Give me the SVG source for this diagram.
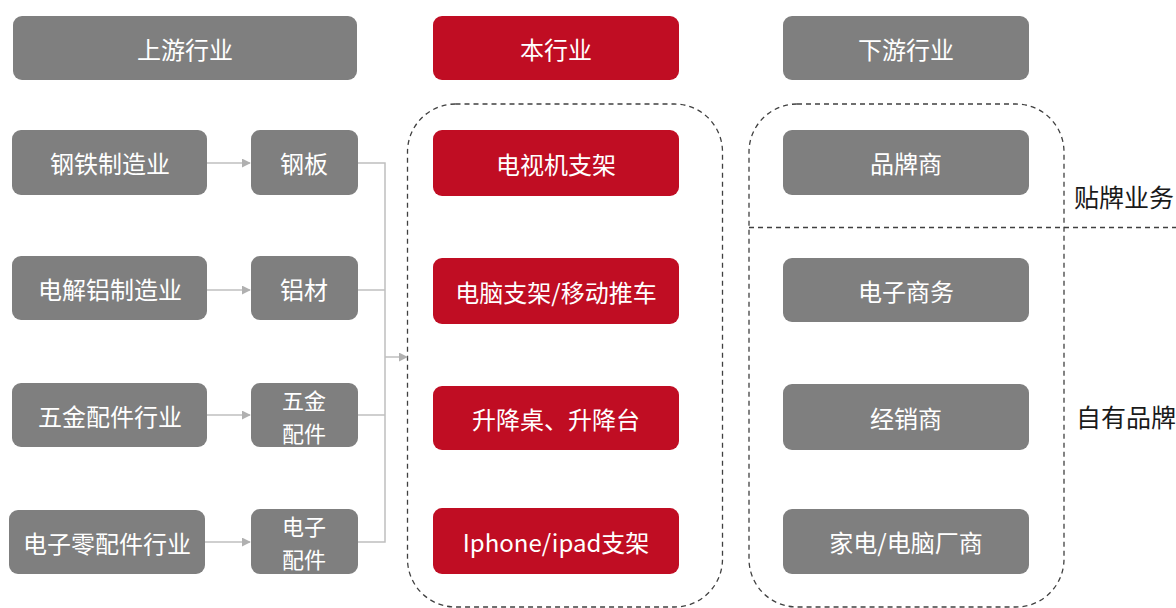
<svg xmlns="http://www.w3.org/2000/svg" width="1176" height="608" viewBox="0 0 1176 608">
<defs>
<style>
.g{fill:#7f7f7f}
.r{fill:#c00d23}
.t{font-family:"Noto Sans CJK SC","Noto Sans",sans-serif;font-size:24px;fill:#ffffff;text-anchor:middle;dominant-baseline:central}
.t2{font-size:22px}
.lbl{font-family:"Noto Sans CJK SC","Noto Sans",sans-serif;font-size:25px;fill:#1a1a1a;dominant-baseline:central}
.ln{fill:none;stroke:#bfbfbf;stroke-width:1.5}
.dash{fill:none;stroke:#404040;stroke-width:1.3;stroke-dasharray:5 4}
</style>
<marker id="ah" viewBox="0 0 10 10" refX="9" refY="5" markerWidth="9" markerHeight="9" markerUnits="userSpaceOnUse" orient="auto">
<path d="M0,0 L10,5 L0,10 z" fill="#b0b0b0"/>
</marker>
</defs>
<rect width="1176" height="608" fill="#ffffff"/>

<g id="containers">
<rect class="dash" x="407.5" y="104" width="315" height="503" rx="48"/>
<rect class="dash" x="749" y="104" width="315" height="503" rx="48"/>
<line class="dash" x1="749" y1="227.5" x2="1176" y2="227.5"/>
</g>

<g id="connectors">
<line class="ln" x1="207" y1="163" x2="250" y2="163" marker-end="url(#ah)"/>
<line class="ln" x1="207" y1="290" x2="250" y2="290" marker-end="url(#ah)"/>
<line class="ln" x1="207" y1="415" x2="250" y2="415" marker-end="url(#ah)"/>
<line class="ln" x1="205" y1="542" x2="250" y2="542" marker-end="url(#ah)"/>
<polyline class="ln" points="358,163 385,163 385,542 358,542"/>
<line class="ln" x1="358" y1="290" x2="385" y2="290"/>
<line class="ln" x1="358" y1="415" x2="385" y2="415"/>
<line class="ln" x1="385" y1="357" x2="407" y2="357" marker-end="url(#ah)"/>
</g>

<g id="h-up"><rect class="g" x="13" y="16" width="344" height="64" rx="9"/><text class="t" x="185" y="48">上游行业</text></g>
<g id="h-mid"><rect class="r" x="433" y="16" width="246" height="64" rx="9"/><text class="t" x="556" y="48">本行业</text></g>
<g id="h-down"><rect class="g" x="783" y="16" width="246" height="64" rx="9"/><text class="t" x="906" y="48">下游行业</text></g>

<g id="u1"><rect class="g" x="12" y="130" width="195" height="65" rx="9"/><text class="t" x="110" y="162">钢铁制造业</text></g>
<g id="u2"><rect class="g" x="12" y="256" width="195" height="64" rx="9"/><text class="t" x="110" y="288">电解铝制造业</text></g>
<g id="u3"><rect class="g" x="12" y="383" width="195" height="64" rx="9"/><text class="t" x="110" y="415">五金配件行业</text></g>
<g id="u4"><rect class="g" x="9" y="510" width="196" height="64" rx="9"/><text class="t" x="107" y="542">电子零配件行业</text></g>

<g id="m1"><rect class="g" x="251" y="130" width="107" height="65" rx="9"/><text class="t" x="304" y="162">钢板</text></g>
<g id="m2"><rect class="g" x="251" y="256" width="107" height="64" rx="9"/><text class="t" x="304" y="288">铝材</text></g>
<g id="m3"><rect class="g" x="251" y="383" width="107" height="64" rx="9"/><text class="t t2" x="304" y="399">五金</text><text class="t t2" x="304" y="431.5">配件</text></g>
<g id="m4"><rect class="g" x="251" y="509" width="107" height="65" rx="9"/><text class="t t2" x="304" y="525">电子</text><text class="t t2" x="304" y="557.5">配件</text></g>

<g id="c1"><rect class="r" x="433" y="130" width="246" height="66" rx="9"/><text class="t" x="556" y="163">电视机支架</text></g>
<g id="c2"><rect class="r" x="433" y="258" width="246" height="66" rx="9"/><text class="t" x="556" y="291">电脑支架/移动推车</text></g>
<g id="c3"><rect class="r" x="433" y="386" width="246" height="64" rx="9"/><text class="t" x="556" y="418">升降桌、升降台</text></g>
<g id="c4"><rect class="r" x="433" y="508" width="246" height="66" rx="9"/><text class="t" x="556" y="541">Iphone/ipad支架</text></g>

<g id="d1"><rect class="g" x="783" y="130" width="246" height="65" rx="9"/><text class="t" x="906" y="162">品牌商</text></g>
<g id="d2"><rect class="g" x="783" y="258" width="246" height="64" rx="9"/><text class="t" x="906" y="290">电子商务</text></g>
<g id="d3"><rect class="g" x="783" y="384" width="246" height="66" rx="9"/><text class="t" x="906" y="417">经销商</text></g>
<g id="d4"><rect class="g" x="783" y="509" width="246" height="65" rx="9"/><text class="t" x="906" y="541">家电/电脑厂商</text></g>

<g id="labels">
<text class="lbl" x="1074" y="196">贴牌业务</text>
<text class="lbl" x="1076" y="416">自有品牌</text>
</g>
</svg>
